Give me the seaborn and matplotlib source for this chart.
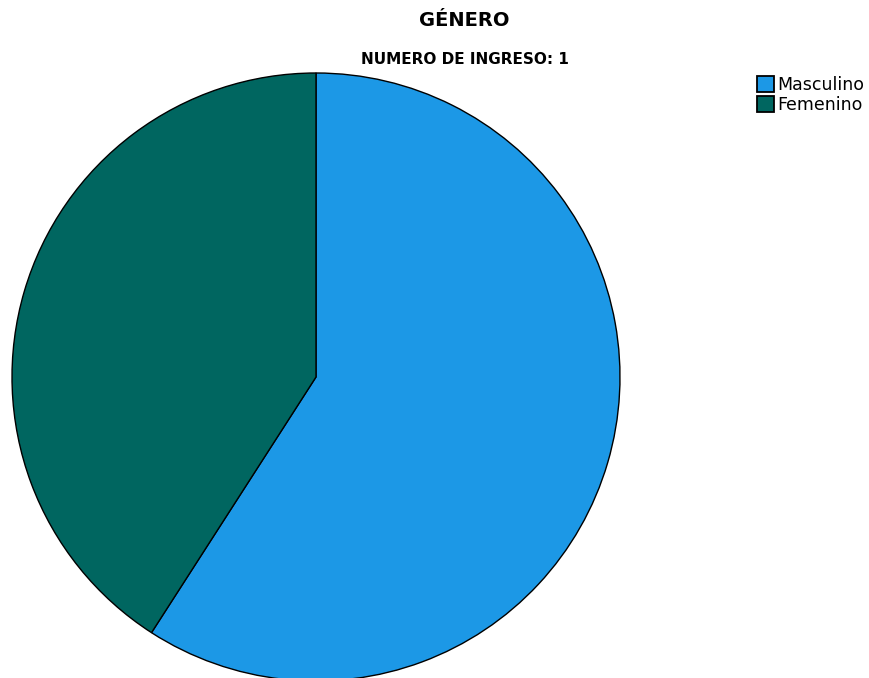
import matplotlib
matplotlib.use("Agg")
import matplotlib.pyplot as plt
import seaborn as sns
from matplotlib.patches import Patch

categories = ["Masculino", "Femenino"]
values = [59.1, 40.9]
colors = ["#1c98e6", "#006660"]
title = "GÉNERO"
subtitle = "NUMERO DE INGRESO: 1"

sns.set_theme(style="white")
plt.rcParams['font.family'] = ['DejaVu Sans']

fig = plt.figure(figsize=(8.7, 6.78), dpi=100)
W, H = 870, 678
cx, cy, r = 316, 377, 304
ax = fig.add_axes([(cx - r) / W, (H - cy - r) / H, 2 * r / W, 2 * r / H])
ax.pie(values, colors=colors, startangle=90, counterclock=False,
       wedgeprops=dict(edgecolor="black", linewidth=1.0), radius=1.0)
ax.set_xlim(-1, 1)
ax.set_ylim(-1, 1)
ax.set_aspect("equal")
ax.axis("off")

fig.text(464 / W, 1 - 21 / H, title, ha="center", va="center",
         fontsize=14, fontweight="bold", color="black")
fig.text(465 / W, 1 - 59 / H, subtitle, ha="center", va="center",
         fontsize=11, fontweight="bold", color="black")

handles = [Patch(facecolor=c, edgecolor="black", linewidth=1.3) for c in colors]
fig.legend(handles, categories, loc="upper left",
           bbox_to_anchor=(757 / W, 1 - 76 / H), frameon=False,
           fontsize=12.5, handlelength=1.0, handleheight=1.0,
           handletextpad=0.15, labelspacing=0.12, borderpad=0, borderaxespad=0,
           labelcolor="black")

fig.savefig("out.png", dpi=100)
